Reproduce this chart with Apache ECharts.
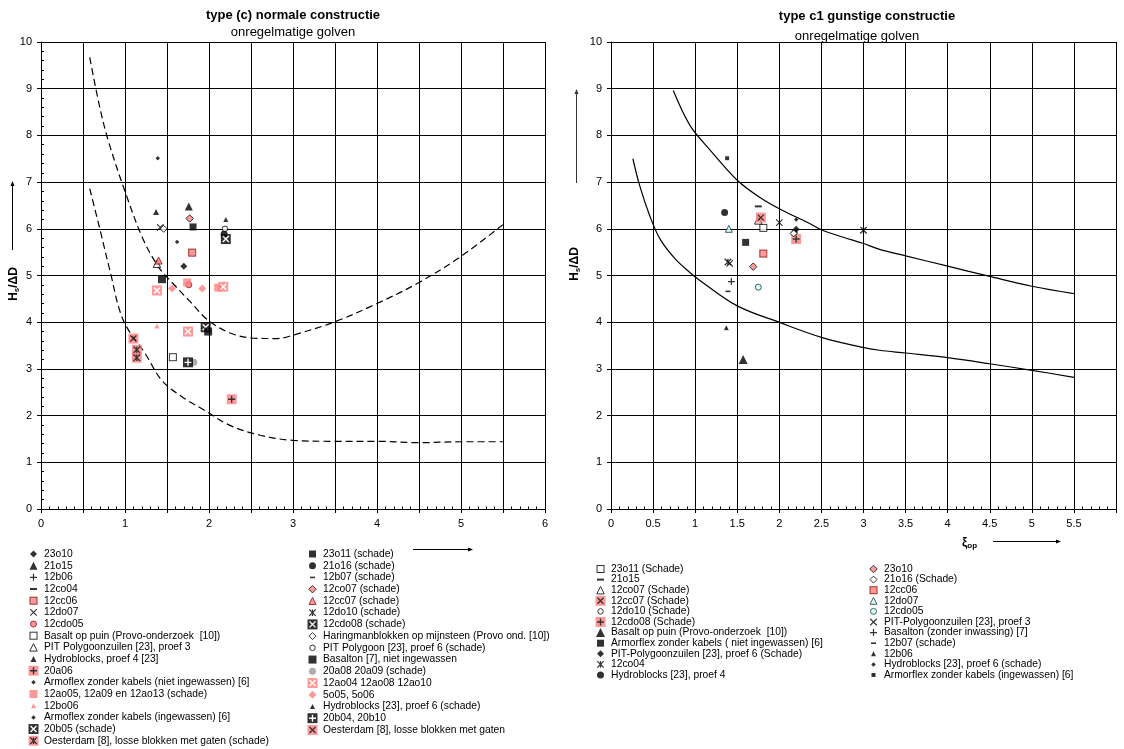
<!DOCTYPE html>
<html>
<head>
<meta charset="utf-8">
<title>type (c) normale constructie / type c1 gunstige constructie</title>
<script src="https://cdn.jsdelivr.net/npm/echarts@6/dist/echarts.min.js"></script>
<style>
html,body{margin:0;padding:0;background:#fff;}
#chart{width:1124px;height:749px;}
</style>
</head>
<body>
<div id="chart"></div>
<script>
// ---------------------------------------------------------------
// Axis ranges (both panels): xi_op horizontally, Hs/ΔD vertically
// ---------------------------------------------------------------
const xMin = 0, xMax = 6, xStep = 0.5;
const yMin = 0, yMax = 10, yStep = 1;

// Left panel — type (c) normale constructie: stability limits (dashed)
const curveC_upper = [[0.58,9.67],[0.70,8.60],[0.80,7.89],[1.00,6.80],[1.21,5.80],[1.40,5.18],[1.56,4.85],[1.77,4.45],[1.99,4.04],[2.25,3.77],[2.52,3.66],[2.81,3.65],[2.96,3.70],[3.50,4.01],[4.00,4.40],[4.50,4.85],[5.00,5.41],[5.50,6.09]];
const curveC_lower = [[0.58,6.86],[0.70,6.00],[0.82,5.11],[0.98,4.04],[1.24,3.33],[1.44,2.75],[1.69,2.39],[1.95,2.11],[2.25,1.79],[2.61,1.58],[3.00,1.47],[3.50,1.45],[4.00,1.45],[4.50,1.42],[5.00,1.44],[5.50,1.44]];

// Right panel — type c1 gunstige constructie: stability limits (solid)
const curveC1_upper = [[0.74,8.96],[0.94,8.21],[1.18,7.68],[1.50,7.04],[1.77,6.67],[2.04,6.39],[2.33,6.14],[2.51,5.97],[2.76,5.82],[2.99,5.69],[3.19,5.56],[3.50,5.42],[4.00,5.20],[4.50,4.98],[5.00,4.77],[5.50,4.61]];
const curveC1_lower = [[0.26,7.50],[0.34,6.93],[0.46,6.28],[0.58,5.79],[0.76,5.36],[0.94,5.06],[1.06,4.89],[1.50,4.35],[2.01,3.99],[2.51,3.67],[2.99,3.46],[3.19,3.40],[3.50,3.34],[4.00,3.24],[4.50,3.11],[5.00,2.97],[5.50,2.82]];

// Left panel test results [xi_op, Hs/ΔD]
const L_23o10        = [[1.70,5.20]];
const L_21o15        = [[1.76,6.48]];
const L_12b06        = [];
const L_12co04       = [];
const L_12cc06       = [[1.80,5.49]];
const L_12do07       = [[1.42,6.03]];
const L_12cdo05      = [[1.76,4.80]];
const L_basaltPuin   = [[1.57,3.25]];
const L_pitP3        = [[1.38,5.25]];
const L_hydroP4      = [[1.37,6.36]];
const L_20a06        = [[2.27,2.35]];
const L_armoNiet     = [[1.62,5.72]];
const L_12ao05       = [[1.74,4.85],[2.11,4.74]];
const L_12bo06       = [[1.38,3.92]];
const L_armoIng      = [[1.39,7.51]];
const L_20b05        = [[1.96,3.89]];
const L_oesterSchade = [[1.14,3.41],[1.14,3.24]];
const L_23o11        = [[1.81,6.04]];
const L_21o16        = [[2.18,5.89]];
const L_12b07        = [];
const L_12co07       = [[1.77,6.22]];
const L_12cc07       = [[1.40,5.32]];
const L_12do10       = [];
const L_12cdo08      = [[2.20,5.78]];
const L_haringman    = [[1.46,6.00]];
const L_pitP6        = [[2.19,6.00]];
const L_basalton     = [[1.44,4.92],[1.99,3.80]];
const L_20a08        = [[1.82,3.14]];
const L_12ao04       = [[1.38,4.68],[2.17,4.76],[1.75,3.80]];
const L_5o05         = [[1.56,4.72],[1.92,4.72]];
const L_hydroP6      = [[2.20,6.20]];
const L_20b04        = [[1.75,3.14]];
const L_oester       = [[1.10,3.65]];

// Right panel test results [xi_op, Hs/ΔD]
const R_23o11      = [[1.81,6.02]];
const R_21o15      = [[1.75,6.48]];
const R_12co07     = [[1.75,6.18]];
const R_12cc07     = [[1.78,6.24]];
const R_12do10     = [[2.18,5.92]];
const R_12cdo08    = [[2.20,5.78]];
const R_basaltPuin = [[1.57,3.20]];
const R_armoNiet   = [[1.60,5.71]];
const R_pitP6      = [[2.20,5.99]];
const R_12co04     = [[1.39,5.29],[3.00,5.97]];
const R_hydroP4    = [[1.35,6.35]];
const R_23o10      = [[1.69,5.19]];
const R_21o16      = [[2.17,5.90]];
const R_12cc06     = [[1.81,5.47]];
const R_12do07     = [[1.40,6.00]];
const R_12cdo05    = [[1.75,4.75]];
const R_pitP3      = [[2.00,6.13],[1.41,5.26]];
const R_basalton   = [[1.43,4.87]];
const R_12b07      = [[1.39,4.66]];
const R_12b06      = [[1.37,3.88]];
const R_hydroP6    = [[2.20,6.20]];
const R_armoIng    = [[1.38,7.51]];

// ---------------------------------------------------------------
// Marker glyphs (small inline SVGs so composite symbols keep colours)
// ---------------------------------------------------------------
const PINK = '#ff8080';
const CYAN = '#ccffff';
const strokeAttr = (st, sw) => st ? ` stroke="${st}" stroke-width="${sw || 1}"` : '';
const sq   = (s, f, st, sw) => `<rect x="${-s/2}" y="${-s/2}" width="${s}" height="${s}" fill="${f}"${strokeAttr(st, sw)}/>`;
const dia  = (s, f, st, sw) => `<polygon points="0,${-s/2} ${s/2},0 0,${s/2} ${-s/2},0" fill="${f}"${strokeAttr(st, sw)}/>`;
const tri  = (s, f, st, sw) => `<polygon points="0,${-s/2} ${s/2},${s/2} ${-s/2},${s/2}" fill="${f}"${strokeAttr(st, sw)}/>`;
const circ = (s, f, st, sw) => `<circle cx="0" cy="0" r="${s/2}" fill="${f}"${strokeAttr(st, sw)}/>`;
const bar  = (w, h, f) => `<rect x="${-w/2}" y="${-h/2}" width="${w}" height="${h}" fill="${f}"/>`;
const crossP = (s, c, sw) => `<path d="M${-s/2},${-s/2}L${s/2},${s/2}M${-s/2},${s/2}L${s/2},${-s/2}" stroke="${c}" stroke-width="${sw}" fill="none"/>`;
const plusP  = (s, c, sw) => `<path d="M${-s/2},0H${s/2}M0,${-s/2}V${s/2}" stroke="${c}" stroke-width="${sw}" fill="none"/>`;
// star: diagonal cross with a vertical stroke through the centre
const astP   = (s, c, sw) => crossP(s, c, sw) + `<path d="M0,${-s/2}V${s/2}" stroke="${c}" stroke-width="${sw}" fill="none"/>`;

// key: [canvas size, svg body]
const MARKERS = {
  diaBlk:     [8,  dia(7, '#000')],
  triBlk:     [9,  tri(8, '#000')],
  triBlkM:    [7,  tri(6, '#000')],
  triBlkS:    [6,  tri(5, '#000')],
  triBlkL:    [10, tri(9, '#000')],
  plusBlk:    [8,  plusP(7, '#000', 1.2)],
  dashBlk:    [8,  bar(7, 2, '#000')],
  dashBlkS:   [6,  bar(5, 1.6, '#000')],
  sqPinkO:    [9,  sq(7, PINK, '#800000', 1)],
  crossBlk:   [8,  crossP(6.5, '#000', 1.1)],
  circPinkO:  [8,  circ(6, PINK, '#800000', 1)],
  sqOpen:     [9,  sq(7, '#fff', '#000', 1)],
  triOpen:    [10, tri(7.5, '#fff', '#000', 1)],
  sqPinkPlus: [11, sq(10, PINK) + plusP(7, '#000', 1.4)],
  diaBlkS:    [5,  dia(4.5, '#000')],
  sqPink:     [9,  sq(8, PINK)],
  triPinkS:   [6,  tri(5, PINK)],
  sqBlkX:     [11, sq(10, '#000') + crossP(6, '#fff', 1.4)],
  sqPinkAst:  [11, sq(10, PINK) + astP(6.5, '#000', 1.3)],
  sqBlk:      [8,  sq(7, '#000')],
  sqBlkL:     [9,  sq(8, '#000')],
  circBlk:    [8,  circ(7, '#000')],
  diaPinkO:   [9,  dia(7.5, PINK, '#000', 1)],
  triPinkO:   [9,  tri(7, PINK, '#800000', 1)],
  astBlk:     [8,  astP(6.5, '#000', 1.3)],
  diaOpen:    [9,  dia(7, '#fff', '#000', 1)],
  circOpen:   [8,  circ(5.5, '#fff', '#000', 1)],
  circGray:   [8,  circ(7, '#999')],
  sqPinkWX:   [11, sq(10, PINK) + crossP(6, '#fff', 1.4)],
  diaPink:    [9,  dia(8, PINK)],
  sqBlkPlus:  [11, sq(10, '#000') + plusP(7, '#fff', 1.4)],
  sqPinkBX:   [11, sq(10, PINK) + crossP(6, '#000', 1.3)],
  triCyan:    [9,  tri(7, CYAN, '#1a3333', 1)],
  circCyan:   [8,  circ(6, CYAN, '#1a3333', 1)],
  sqBlkS:     [5,  sq(4, '#000')]
};
function svgIcon(body, size) {
  const svg = `<svg xmlns="http://www.w3.org/2000/svg" width="${size}" height="${size}" viewBox="${-size/2} ${-size/2} ${size} ${size}">${body}</svg>`;
  return 'image://data:image/svg+xml;charset=utf-8,' + encodeURIComponent(svg);
}
const LEGEND_ICON = 11;

// ---------------------------------------------------------------
// Series tables: [legend name, marker, data]
// ---------------------------------------------------------------
const leftCol1 = [
  ['23o10', 'diaBlk', L_23o10],
  ['21o15', 'triBlk', L_21o15],
  ['12b06', 'plusBlk', L_12b06],
  ['12co04', 'dashBlk', L_12co04],
  ['12cc06', 'sqPinkO', L_12cc06],
  ['12do07', 'crossBlk', L_12do07],
  ['12cdo05', 'circPinkO', L_12cdo05],
  ['Basalt op puin (Provo-onderzoek  [10])', 'sqOpen', L_basaltPuin],
  ['PIT Polygoonzuilen [23], proef 3', 'triOpen', L_pitP3],
  ['Hydroblocks, proef 4 [23]', 'triBlkM', L_hydroP4],
  ['20a06', 'sqPinkPlus', L_20a06],
  ['Armoflex zonder kabels (niet ingewassen) [6]', 'diaBlkS', L_armoNiet],
  ['12ao05, 12a09 en 12ao13 (schade)', 'sqPink', L_12ao05],
  ['12bo06', 'triPinkS', L_12bo06],
  ['Armoflex zonder kabels (ingewassen) [6]', 'diaBlkS', L_armoIng],
  ['20b05 (schade)', 'sqBlkX', L_20b05],
  ['Oesterdam [8], losse blokken met gaten (schade)', 'sqPinkAst', L_oesterSchade]
];
const leftCol2 = [
  ['23o11 (schade)', 'sqBlk', L_23o11],
  ['21o16 (schade)', 'circBlk', L_21o16],
  ['12b07 (schade)', 'dashBlkS', L_12b07],
  ['12co07 (schade)', 'diaPinkO', L_12co07],
  ['12cc07 (schade)', 'triPinkO', L_12cc07],
  ['12do10 (schade)', 'astBlk', L_12do10],
  ['12cdo08 (schade)', 'sqBlkX', L_12cdo08],
  ['Haringmanblokken op mijnsteen (Provo ond. [10])', 'diaOpen', L_haringman],
  ['PIT Polygoon [23], proef 6 (schade)', 'circOpen', L_pitP6],
  ['Basalton [7], niet ingewassen', 'sqBlkL', L_basalton],
  ['20a08 20a09 (schade)', 'circGray', L_20a08],
  ['12ao04 12ao08 12ao10', 'sqPinkWX', L_12ao04],
  ['5o05, 5o06', 'diaPink', L_5o05],
  ['Hydroblocks [23], proef 6 (schade)', 'triBlkS', L_hydroP6],
  ['20b04, 20b10', 'sqBlkPlus', L_20b04],
  ['Oesterdam [8], losse blokken met gaten', 'sqPinkBX', L_oester]
];
const rightCol1 = [
  ['23o11 (Schade)', 'sqOpen', R_23o11],
  ['21o15', 'dashBlk', R_21o15],
  ['12co07 (Schade)', 'triOpen', R_12co07],
  ['12cc07 (Schade)', 'sqPinkBX', R_12cc07],
  ['12do10 (Schade)', 'circOpen', R_12do10],
  ['12cdo08 (Schade)', 'sqPinkPlus', R_12cdo08],
  ['Basalt op puin (Provo-onderzoek  [10])', 'triBlkL', R_basaltPuin],
  ['Armorflex zonder kabels ( niet ingewassen) [6]', 'sqBlk', R_armoNiet],
  ['PIT-Polygoonzuilen [23], proef 6 (Schade)', 'diaBlk', R_pitP6],
  ['12co04', 'astBlk', R_12co04],
  ['Hydroblocks [23], proef 4', 'circBlk', R_hydroP4]
];
const rightCol2 = [
  ['23o10', 'diaPinkO', R_23o10],
  ['21o16 (Schade)', 'diaOpen', R_21o16],
  ['12cc06', 'sqPinkO', R_12cc06],
  ['12do07', 'triCyan', R_12do07],
  ['12cdo05', 'circCyan', R_12cdo05],
  ['PIT-Polygoonzuilen [23], proef 3', 'crossBlk', R_pitP3],
  ['Basalton (zonder inwassing) [7]', 'plusBlk', R_basalton],
  ['12b07 (schade)', 'dashBlkS', R_12b07],
  ['12b06', 'triBlkS', R_12b06],
  ['Hydroblocks [23], proef 6 (schade)', 'diaBlkS', R_hydroP6],
  ['Armorflex zonder kabels (ingewassen) [6]', 'sqBlkS', R_armoIng]
];

// ---------------------------------------------------------------
// Option building
// ---------------------------------------------------------------
const FONT = 'Liberation Sans, Arial, sans-serif';
const BLACK = '#000';

function scatterSeries(rows, xi, yi) {
  return rows.map(([name, mk, data]) => {
    const [size, body] = MARKERS[mk];
    return {
      type: 'scatter', name: name, xAxisIndex: xi, yAxisIndex: yi,
      data: data, symbol: svgIcon(body, size), symbolSize: size,
      silent: true, z: 4
    };
  });
}
function curveSeries(data, xi, yi, dashed) {
  return {
    type: 'line', data: data, xAxisIndex: xi, yAxisIndex: yi,
    showSymbol: false, symbol: 'none', smooth: 0.35, silent: true, z: 3,
    lineStyle: { color: BLACK, width: 1.2, type: dashed ? [7, 4] : 'solid' }
  };
}
function legendBlock(rows, left, top, gap) {
  return {
    orient: 'vertical', left: left, top: top, padding: 0,
    itemWidth: LEGEND_ICON, itemHeight: LEGEND_ICON, itemGap: gap,
    selectedMode: false,
    textStyle: { fontFamily: FONT, fontSize: 10.3, color: BLACK, lineHeight: 11 },
    data: rows.map(([name, mk]) => ({ name: name, icon: svgIcon(MARKERS[mk][1], LEGEND_ICON) }))
  };
}
function xMain(gi, labelFmt) {
  return {
    gridIndex: gi, type: 'value', position: 'bottom', min: xMin, max: xMax, interval: xStep,
    axisLine: { lineStyle: { color: BLACK, width: 1 } },
    axisTick: { show: true, length: 4, lineStyle: { color: BLACK } },
    axisLabel: { formatter: labelFmt, fontFamily: FONT, fontSize: 11, color: BLACK, margin: 9 },
    splitLine: { show: true, lineStyle: { color: BLACK, width: 1 } }
  };
}
function xMinor(gi) {
  return {
    gridIndex: gi, type: 'value', position: 'bottom', min: xMin, max: xMax, interval: xStep,
    axisLine: { show: false }, axisLabel: { show: false }, splitLine: { show: false },
    axisTick: { show: false, inside: true },
    minorTick: { show: true, splitNumber: 5, length: 2.5, lineStyle: { color: BLACK } }
  };
}
function yMain(gi) {
  return {
    gridIndex: gi, type: 'value', position: 'left', min: yMin, max: yMax, interval: yStep,
    axisLine: { show: true, lineStyle: { color: BLACK, width: 1 } },
    axisTick: { show: true, length: 4, lineStyle: { color: BLACK } },
    axisLabel: { fontFamily: FONT, fontSize: 11, color: BLACK, margin: 9 },
    splitLine: { show: true, lineStyle: { color: BLACK, width: 1 } }
  };
}
function axisName(x, y, main, sub, rotate) {
  return {
    type: 'text', x: x, y: y, rotation: rotate ? Math.PI / 2 : 0, silent: true,
    style: {
      text: `{b|${main}}{s|${sub}}` + (rotate ? '{b|/ΔD}' : ''), fill: BLACK,
      textAlign: rotate ? 'center' : 'left', align: rotate ? 'center' : 'left',
      textVerticalAlign: 'middle', verticalAlign: 'middle',
      rich: {
        b: { font: 'bold 12px ' + FONT, fill: BLACK, lineHeight: 14, verticalAlign: 'middle' },
        s: { font: 'bold 8px ' + FONT, fill: BLACK, lineHeight: 14, verticalAlign: 'bottom' }
      }
    }
  };
}
function centredText(x, y, text, bold) {
  return {
    type: 'text', x: x, y: y, silent: true,
    style: { text: text, font: (bold ? 'bold ' : '') + '13px ' + FONT, fill: BLACK,
             textAlign: 'center', textVerticalAlign: 'middle', align: 'center', verticalAlign: 'middle' }
  };
}

const option = {
  animation: false,
  backgroundColor: '#fff',
  grid: [
    { left: 41, top: 42, width: 504, height: 467 },
    { left: 611, top: 42, width: 505, height: 467 }
  ],
  xAxis: [
    xMain(0, v => (Math.abs(v - Math.round(v)) < 1e-9 ? String(v) : '')),
    xMinor(0),
    xMain(1, v => (v >= xMax ? '' : String(v))),
    xMinor(1)
  ],
  yAxis: [
    yMain(0),
    {
      gridIndex: 0, type: 'value', position: 'left', min: yMin, max: yMax, interval: yStep,
      axisLine: { show: false }, axisLabel: { show: false }, splitLine: { show: false },
      axisTick: { show: false, inside: true },
      minorTick: { show: true, splitNumber: 5, length: 3, lineStyle: { color: BLACK } }
    },
    yMain(1)
  ],
  legend: [
    legendBlock(leftCol1, 28, 548.5, 0.67),
    legendBlock(leftCol2, 307, 548.5, 0.73),
    legendBlock(rightCol1, 595, 563.5, -0.4),
    legendBlock(rightCol2, 868, 563.5, -0.4)
  ],
  series: [
    curveSeries(curveC_upper, 0, 0, true),
    curveSeries(curveC_lower, 0, 0, true),
    curveSeries(curveC1_upper, 2, 2, false),
    curveSeries(curveC1_lower, 2, 2, false),
    ...scatterSeries(leftCol1, 0, 0),
    ...scatterSeries(leftCol2, 0, 0),
    ...scatterSeries(rightCol1, 2, 2),
    ...scatterSeries(rightCol2, 2, 2)
  ],
  graphic: [
    // panel titles
    centredText(293, 15, 'type (c) normale constructie', true),
    centredText(293, 32, 'onregelmatige golven', false),
    centredText(867, 16, 'type c1 gunstige constructie', true),
    centredText(857, 36, 'onregelmatige golven', false),
    // vertical axis names with arrows
    axisName(14, 284, 'H', 's', true),
    { type: 'line', silent: true, shape: { x1: 12.5, y1: 250, x2: 12.5, y2: 185 }, style: { stroke: BLACK, lineWidth: 1 } },
    { type: 'polygon', silent: true, shape: { points: [[12.5, 181], [10.5, 186], [14.5, 186]] }, style: { fill: BLACK } },
    axisName(575, 264, 'H', 's', true),
    { type: 'line', silent: true, shape: { x1: 576.5, y1: 183, x2: 576.5, y2: 93 }, style: { stroke: '#333', lineWidth: 1 } },
    { type: 'polygon', silent: true, shape: { points: [[576.5, 89], [574.5, 94], [578.5, 94]] }, style: { fill: '#333' } },
    // horizontal axis names with arrows
    { type: 'line', silent: true, shape: { x1: 413, y1: 549.5, x2: 469, y2: 549.5 }, style: { stroke: BLACK, lineWidth: 1 } },
    { type: 'polygon', silent: true, shape: { points: [[473, 549.5], [468, 547.5], [468, 551.5]] }, style: { fill: BLACK } },
    axisName(962, 543, 'ξ', 'op', false),
    { type: 'line', silent: true, shape: { x1: 993, y1: 541.5, x2: 1057, y2: 541.5 }, style: { stroke: BLACK, lineWidth: 1 } },
    { type: 'polygon', silent: true, shape: { points: [[1061, 541.5], [1056, 539.5], [1056, 543.5]] }, style: { fill: BLACK } }
  ]
};

const chart = echarts.init(document.getElementById('chart'), null, { renderer: 'canvas' });
chart.setOption(option);
</script>
</body>
</html>
